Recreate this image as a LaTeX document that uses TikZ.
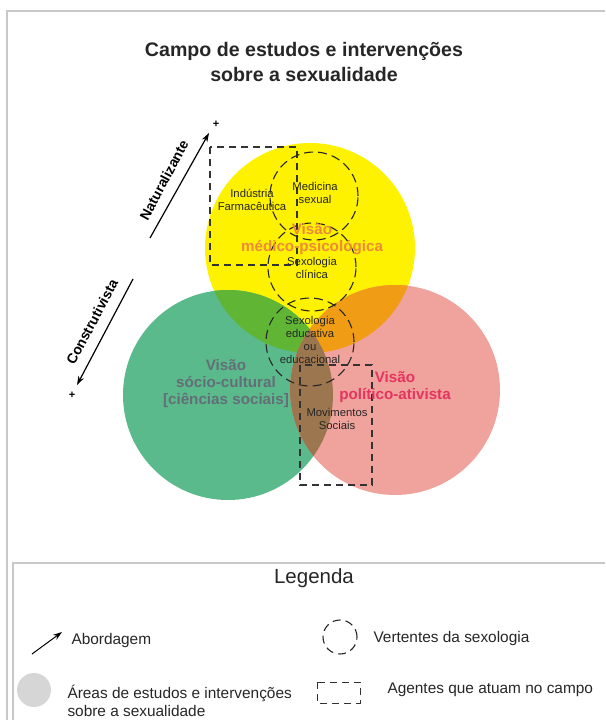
\documentclass[tikz,border=0pt]{standalone}
\usepackage{fontspec}
\setmainfont{Liberation Sans}
\usetikzlibrary{arrows.meta}

\definecolor{amarelo}{RGB}{255,242,0}
\definecolor{verde}{RGB}{90,186,140}
\definecolor{rosa}{RGB}{240,162,156}
\definecolor{amverde}{RGB}{96,182,52}
\definecolor{laranja}{RGB}{240,156,20}
\definecolor{marrom}{RGB}{156,118,78}
\definecolor{txmedico}{RGB}{238,138,60}
\definecolor{txsocio}{RGB}{100,110,120}
\definecolor{txpolitico}{RGB}{228,52,96}
\definecolor{moldura}{RGB}{200,200,200}

\begin{document}
\begin{tikzpicture}[x=1pt,y=-1pt,
    lbl/.style={font=\fontsize{11.3}{12.8}\selectfont,align=center,text=black!85},
    visao/.style={font=\fontsize{15.2}{17}\selectfont\bfseries,align=center},
    vertente/.style={draw=black!85,line width=1.1pt,dash pattern=on 9pt off 5pt},
    agente/.style={draw=black!80,line width=1.1pt,dash pattern=on 7pt off 5pt},
    seta/.style={line width=1.2pt,-{Stealth[length=9pt,width=6pt]}},
    leg/.style={font=\fontsize{15.4}{18}\selectfont,align=left,anchor=west,text=black!85}]
  \useasboundingbox (0,0) rectangle (605,720);
  % molduras
  \draw[moldura,line width=1.5pt] (7,720)--(7,11)--(605,11);
  \draw[moldura,line width=1.5pt] (13,720)--(13,563)--(605,563);

  % titulo
  \node[font=\fontsize{19.6}{25}\selectfont\bfseries,align=center,text=black!85] (titulo) at (304,62)
    {Campo de estudos e interven\c{c}\~oes\\sobre a sexualidade};

  % areas
  \coordinate (Y) at (310,248);
  \coordinate (G) at (228,395);
  \coordinate (R) at (395,390);
  \fill[amarelo] (Y) circle (105pt);
  \fill[verde] (G) circle (105pt);
  \fill[rosa] (R) circle (105pt);
  \begin{scope}
    \clip (Y) circle (105pt);
    \fill[amverde] (G) circle (105pt);
    \fill[laranja] (R) circle (105pt);
  \end{scope}
  \begin{scope}
    \clip (G) circle (105pt);
    \fill[marrom] (R) circle (105pt);
  \end{scope}

  % abordagens
  \coordinate (nat0) at (150,238);
  \coordinate (nat1) at (209,133);
  \coordinate (con0) at (133,279);
  \coordinate (con1) at (77,385);
  \draw[seta] (nat0)--(nat1);
  \draw[seta] (con0)--(con1);
  \node[font=\fontsize{14}{16}\selectfont\bfseries,rotate=62] (nat) at (164,180) {Naturalizante};
  \node[font=\fontsize{14}{16}\selectfont\bfseries,rotate=62] (con) at (92,322) {Construtivista};
  \node[font=\fontsize{11}{12}\selectfont\bfseries] (mais1) at (216,124) {+};
  \node[font=\fontsize{11}{12}\selectfont\bfseries] (mais2) at (72,395) {+};

  % agentes
  \draw[agente] (210,147) rectangle (297,265);
  \draw[agente] (300,365) rectangle (372,485);

  % vertentes
  \foreach \cx/\cy in {314/196,312/267,310/342}
    \draw[vertente] (\cx,\cy) circle (44pt);

  % textos
  \node[lbl] (medicina) at (315,193) {Medicina\\sexual};
  \node[lbl] (industria) at (252,200) {Ind\'ustria\\Farmac\^eutica};
  \node[visao,text=txmedico] (medico) at (312,239) {Vis\~ao\\m\'edico-psicol\'ogica};
  \node[lbl] (clinica) at (312,268) {Sexologia\\cl\'inica};
  \node[lbl] (educ) at (310,340) {Sexologia\\educativa\\ou\\educacional};
  \node[visao,text=txsocio] (socio) at (226,384) {Vis\~ao\\s\'ocio-cultural\\{[ci\^encias sociais]}};
  \node[visao,text=txpolitico] (politico) at (395,387) {Vis\~ao\\pol\'itico-ativista};
  \node[lbl] (movimentos) at (337,419) {Movimentos\\Sociais};

  % legenda
  \node[font=\fontsize{20.5}{24}\selectfont,text=black!85] (legenda) at (314,578) {Legenda};
  \coordinate (ab0) at (32,654);
  \coordinate (ab1) at (62,632);
  \draw[seta,line width=1pt] (ab0)--(ab1);
  \node[leg] (abordagem) at (68,641) {Abordagem};
  \draw[vertente,dash pattern=on 8pt off 5pt] (340,637) circle (17pt);
  \node[leg] (vertentes) at (370,639) {Vertentes da sexologia};
  \fill[black!16] (34,690) circle (17pt);
  \node[leg] (areas) at (64,701) {\'Areas de estudos e interven\c{c}\~oes\\sobre a sexualidade};
  \draw[agente,line width=1pt] (317,682) rectangle (360,703);
  \node[leg] (agentes) at (384,690) {Agentes que atuam no campo};
\end{tikzpicture}
\end{document}
